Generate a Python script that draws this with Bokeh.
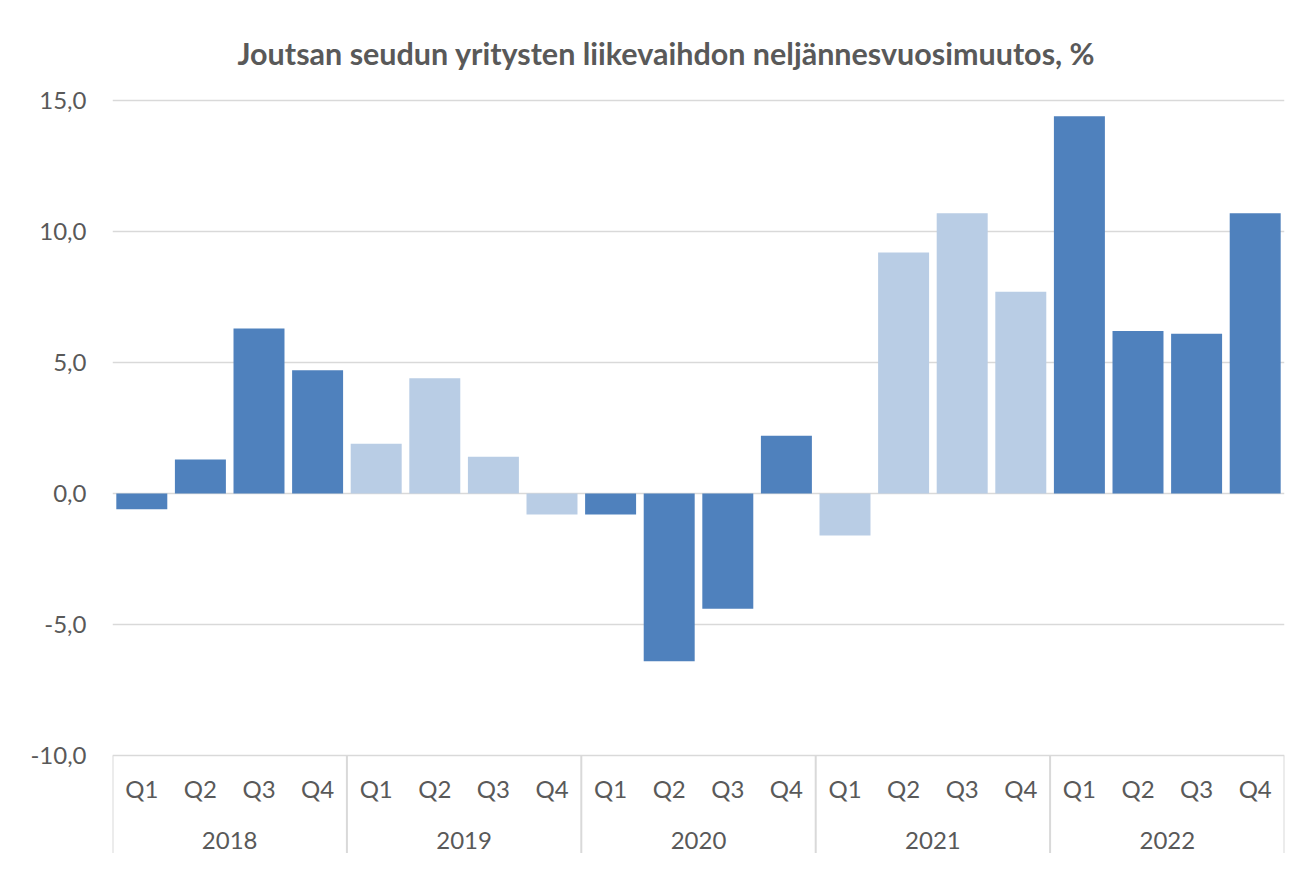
from bokeh.plotting import figure
from bokeh.models import Range1d, FixedTicker, ColumnDataSource
from bokeh.core.properties import value
from bokeh.embed import file_html
from bokeh.resources import INLINE

title_text = "Joutsan seudun yritysten liikevaihdon neljännesvuosimuutos, %"
years = ["2018", "2019", "2020", "2021", "2022"]
quarters = ["Q1", "Q2", "Q3", "Q4"]
v2018 = [-0.6, 1.3, 6.3, 4.7]
v2019 = [1.9, 4.4, 1.4, -0.8]
v2020 = [-0.8, -6.4, -4.4, 2.2]
v2021 = [-1.6, 9.2, 10.7, 7.7]
v2022 = [14.4, 6.2, 6.1, 10.7]
y_ticks = [-10, -5, 0, 5, 10, 15]
year_colors = ["#4F81BD", "#B9CDE5", "#4F81BD", "#B9CDE5", "#4F81BD"]

series = [v2018, v2019, v2020, v2021, v2022]
xs, vals, cols, qlabels = [], [], [], []
for g, (yr, vs) in enumerate(zip(years, series)):
    for q, (qn, v) in enumerate(zip(quarters, vs)):
        xs.append(g * len(quarters) + q + 0.5)
        vals.append(v)
        cols.append(year_colors[g])
        qlabels.append(qn)
n = len(xs)

TEXT = "#595959"
FONT = "Lato"
px_per_unit = 26.2
y_top = 15 + 12 / px_per_unit
y_bottom = -10 - 98 / px_per_unit

p = figure(width=1288, height=853, output_backend="svg", toolbar_location=None,
           x_range=Range1d(0, n), y_range=Range1d(y_bottom, y_top),
           x_axis_location=None, min_border_left=112, min_border_right=4,
           min_border_top=88, min_border_bottom=0, title=title_text)
p.outline_line_color = None
p.xgrid.visible = False
p.ygrid.ticker = FixedTicker(ticks=y_ticks)
p.ygrid.grid_line_color = "#D9D9D9"
p.ygrid.grid_line_width = 1.5

ax = p.yaxis[0]
ax.ticker = FixedTicker(ticks=y_ticks)
ax.major_label_overrides = {t: f"{t:.1f}".replace(".", ",") for t in y_ticks}
ax.axis_line_color = None
ax.major_tick_line_color = None
ax.minor_tick_line_color = None
ax.major_tick_out = 0
ax.major_label_standoff = 26
ax.major_label_text_font = FONT
ax.major_label_text_font_size = "24px"
ax.major_label_text_color = TEXT

p.title.text_font = FONT
p.title.text_font_size = "30.5px"
p.title.text_font_style = "bold"
p.title.text_color = TEXT
p.title.align = "left"
p.title.offset = 125
p.title.standoff = 35

src = ColumnDataSource(dict(x=xs, top=vals, color=cols))
p.vbar(x="x", top="top", bottom=0, width=0.87, fill_color="color",
       line_color=None, source=src)

# category axis (quarters and years) drawn in data space below -10
q_y = -10 - 33 / px_per_unit
yr_y = -10 - 85 / px_per_unit
sep_bottom = y_bottom
p.text(x=xs, y=[q_y] * n, text=qlabels, text_align="center",
       text_baseline="middle", text_font=value(FONT), text_font_size="24px",
       text_color=TEXT)
year_x = [g * len(quarters) + len(quarters) / 2 for g in range(len(years))]
p.text(x=year_x, y=[yr_y] * len(years), text=years, text_align="center",
       text_baseline="middle", text_font=value(FONT), text_font_size="24px",
       text_color=TEXT)
sep_x = [g * len(quarters) for g in range(len(years) + 1)]
p.segment(x0=sep_x, y0=[-10] * len(sep_x), x1=sep_x, y1=[sep_bottom] * len(sep_x),
          line_color="#D9D9D9", line_width=2)

open("out.html", "w").write(file_html(p, INLINE))
